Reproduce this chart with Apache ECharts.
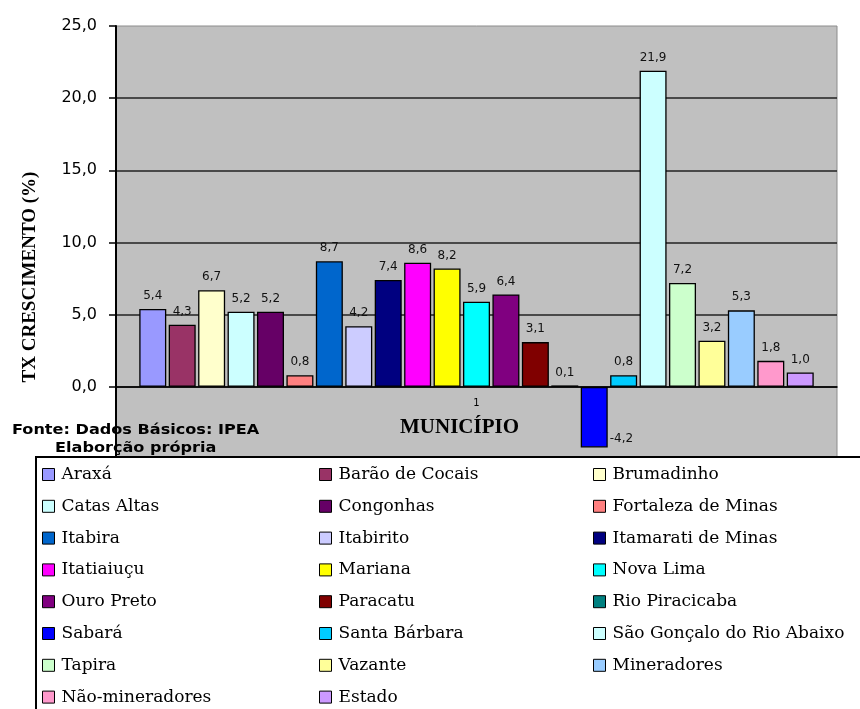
<!DOCTYPE html>
<html>
<head>
<meta charset="utf-8">
<script src="https://cdn.jsdelivr.net/npm/echarts@6/dist/echarts.min.js"></script>
<style>
  html, body { margin: 0; padding: 0; background: #fff; }
  #chart { width: 860px; height: 709px; }
</style>
</head>
<body>
<div id="chart"></div>
<script>
// Taxa de crescimento (%) por município
var categories = ['1'];
var municipios = [
  'Araxá', 'Barão de Cocais', 'Brumadinho', 'Catas Altas', 'Congonhas',
  'Fortaleza de Minas', 'Itabira', 'Itabirito', 'Itamarati de Minas', 'Itatiaiuçu',
  'Mariana', 'Nova Lima', 'Ouro Preto', 'Paracatu', 'Rio Piracicaba',
  'Sabará', 'Santa Bárbara', 'São Gonçalo do Rio Abaixo', 'Tapira', 'Vazante',
  'Mineradores', 'Não-mineradores', 'Estado'
];
var taxas = [
  5.4, 4.3, 6.7, 5.2, 5.2,
  0.8, 8.7, 4.2, 7.4, 8.6,
  8.2, 5.9, 6.4, 3.1, 0.1,
  -4.2, 0.8, 21.9, 7.2, 3.2,
  5.3, 1.8, 1.0
];
var yTicks = [0, 5, 10, 15, 20, 25];

// bar fill colours, one per municipality
var palette = [
  '#9999FF', '#993366', '#FFFFCC', '#CCFFFF', '#660066',
  '#FF8080', '#0066CC', '#CCCCFF', '#000080', '#FF00FF',
  '#FFFF00', '#00FFFF', '#800080', '#800000', '#008080',
  '#0000FF', '#00CCFF', '#CCFFFF', '#CCFFCC', '#FFFF99',
  '#99CCFF', '#FF99CC', '#CC99FF'
];

function fmt(v) { return v.toFixed(1).replace('.', ','); }

var series = municipios.map(function (name, i) {
  var v = taxas[i];
  var label = {
    show: true,
    position: 'top',
    distance: 7,
    fontFamily: 'DejaVu Sans',
    fontSize: 12,
    color: '#111',
    formatter: function (p) { return fmt(p.value); }
  };
  if (v < 0) {
    label.position = 'right';
    label.distance = 2;
    label.offset = [0, 22];
  }
  return {
    name: name,
    type: 'bar',
    data: [v],
    barWidth: 27,
    barGap: '9%',
    z: 2,
    itemStyle: { color: palette[i], borderColor: '#000', borderWidth: 1.3 },
    label: label,
    emphasis: { disabled: true }
  };
});

// legend laid out as three fixed columns
var cols = [[], [], []];
municipios.forEach(function (n, i) { cols[i % 3].push(n); });
var colLeft = [42, 319, 593];
var legends = cols.map(function (names, c) {
  return {
    data: names,
    orient: 'vertical',
    left: colLeft[c],
    top: 466,
    bottom: 0,
    padding: 0,
    itemGap: 14.8,
    itemWidth: 12,
    itemHeight: 12,
    icon: 'rect',
    selectedMode: false,
    z: 20,
    itemStyle: { borderColor: '#000', borderWidth: 1 },
    textStyle: {
      fontFamily: 'DejaVu Serif',
      fontSize: 17,
      lineHeight: 17,
      color: '#000',
      padding: [0, 0, 0, 2]
    }
  };
});

var chart = echarts.init(document.getElementById('chart'), null, { renderer: 'canvas' });
chart.setOption({
  animation: false,
  backgroundColor: '#fff',
  grid: {
    left: 116, right: 23, top: 26, bottom: 250,
    show: true,
    backgroundColor: '#C0C0C0',
    borderColor: '#8c8c8c',
    borderWidth: 1
  },
  xAxis: {
    type: 'category',
    data: categories,
    z: 3,
    // lift the axis from the grid bottom (-5) up to the zero line
    offset: -72.2,
    axisLine: { onZero: false, lineStyle: { color: '#000', width: 1.5 } },
    axisTick: { show: false },
    axisLabel: { show: true, fontFamily: 'DejaVu Sans', fontSize: 10, color: '#000', margin: 12 },
    name: 'MUNICÍPIO',
    nameLocation: 'middle',
    nameGap: 30,
    nameTextStyle: {
      fontFamily: 'Liberation Serif', fontWeight: 'bold', fontSize: 21, color: '#000',
      padding: [0, 34, 0, 0]
    }
  },
  yAxis: {
    type: 'value',
    min: -5,
    max: 25,
    interval: 5,
    axisLine: { show: true, lineStyle: { color: '#000', width: 2 } },
    axisTick: { show: true, length: 7, lineStyle: { color: '#000', width: 1.5 } },
    axisLabel: {
      fontFamily: 'DejaVu Sans', fontSize: 16, color: '#000', margin: 19,
      formatter: function (v) { return yTicks.indexOf(v) >= 0 ? fmt(v) : ''; }
    },
    splitLine: {
      show: true, showMaxLine: false, showMinLine: false,
      lineStyle: { color: '#222', width: 1.5 }
    }
  },
  legend: legends,
  graphic: [
    {
      type: 'rect', z: 10,
      shape: { x: 36, y: 457, width: 830, height: 260 },
      style: { fill: '#fff', stroke: '#000', lineWidth: 2 }
    },
    {
      type: 'text', z: 15, x: 30, y: 277, rotation: Math.PI / 2,
      style: {
        text: 'TX CRESCIMENTO (%)', fontFamily: 'Liberation Serif', fontWeight: 'bold',
        fontSize: 19, fill: '#000', align: 'center', verticalAlign: 'middle'
      }
    },
    {
      type: 'text', z: 15, x: 12, y: 430, scaleX: 1.15,
      style: {
        text: 'Fonte: Dados Básicos: IPEA', fontFamily: 'DejaVu Sans', fontWeight: 'bold',
        fontSize: 14, fill: '#000', align: 'left', verticalAlign: 'middle'
      }
    },
    {
      type: 'text', z: 15, x: 55, y: 448, scaleX: 1.15,
      style: {
        text: 'Elaborção própria', fontFamily: 'DejaVu Sans', fontWeight: 'bold',
        fontSize: 14, fill: '#000', align: 'left', verticalAlign: 'middle'
      }
    }
  ],
  series: series
});
</script>
</body>
</html>
